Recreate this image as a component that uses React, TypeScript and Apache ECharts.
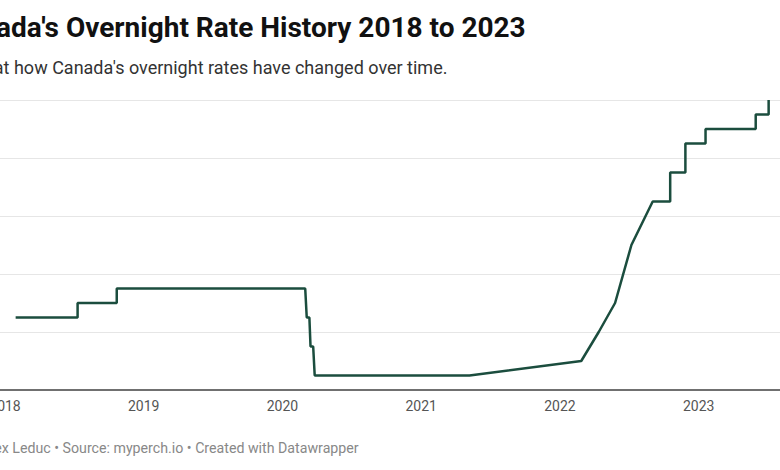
import React, { useEffect, useRef } from "react";
import * as echarts from "echarts";

const title = "Canada's Overnight Rate History 2018 to 2023";
const subtitle = "Look at how Canada's overnight rates have changed over time.";
const footer = "Chart: Alex Leduc • Source: myperch.io • Created with Datawrapper";

const dates = [
  "2018-01-29", "2018-07-11", "2018-07-11", "2018-10-22", "2018-10-22",
  "2020-03-01", "2020-03-05", "2020-03-12", "2020-03-15", "2020-03-22", "2020-03-26",
  "2021-05-08", "2022-02-26", "2022-04-13", "2022-05-26", "2022-07-08", "2022-09-02",
  "2022-10-18", "2022-10-18", "2022-11-27", "2022-11-27", "2023-01-19", "2023-01-19",
  "2023-05-31", "2023-05-31", "2023-07-04", "2023-07-04",
];
const rates = [
  1.25, 1.25, 1.5, 1.5, 1.75,
  1.75, 1.25, 1.25, 0.75, 0.75, 0.25,
  0.25, 0.5, 1.0, 1.5, 2.5, 3.25,
  3.25, 3.75, 3.75, 4.25, 4.25, 4.5,
  4.5, 4.75, 4.75, 5.0,
];
const yearTicks = [2018, 2019, 2020, 2021, 2022, 2023];
const xRange = [2017.964, 2023.586];
const rateTicks = [0, 1, 2, 3, 4, 5];

function toYear(d: string): number {
  const [y, m, day] = d.split("-").map(Number);
  const start = Date.UTC(y, 0, 1);
  const end = Date.UTC(y + 1, 0, 1);
  const t = Date.UTC(y, m - 1, day);
  return y + (t - start) / (end - start);
}

export default function App() {
  const ref = useRef<HTMLDivElement>(null);
  useEffect(() => {
    if (!ref.current) return;
    const chart = echarts.init(ref.current, undefined, { renderer: "svg" });
    const data = dates.map((d, i) => [toYear(d), rates[i]]);
    const font = "Roboto";
    chart.setOption({
      animation: false,
      backgroundColor: "#ffffff",
      grid: { left: 0, right: 0, top: 100, bottom: 80, containLabel: false, outerBoundsMode: "none" },
      xAxis: {
        type: "value",
        min: xRange[0],
        max: xRange[1],
        axisLine: { show: true, lineStyle: { color: "#707070", width: 2 } },
        axisTick: { show: false, customValues: yearTicks },
        splitLine: { show: false },
        axisLabel: {
          customValues: yearTicks,
          color: "#555555",
          fontFamily: font,
          fontSize: 14,
          margin: 9,
          showMinLabel: true,
          showMaxLabel: true,
          hideOverlap: false,
          formatter: (v: number) => String(Math.round(v)),
        },
      },
      yAxis: {
        type: "value",
        min: rateTicks[0],
        max: rateTicks[rateTicks.length - 1],
        interval: 1,
        axisLine: { show: false },
        axisTick: { show: false },
        axisLabel: { show: false },
        splitLine: { show: true, lineStyle: { color: "#e6e6e6", width: 1 } },
      },
      series: [
        {
          type: "line",
          data,
          showSymbol: false,
          symbol: "none",
          lineStyle: { color: "#1b4d3e", width: 2.5 },
          clip: false,
        },
      ],
      graphic: [
        {
          type: "text",
          x: -53,
          y: 27.1,
          style: {
            text: title,
            fontFamily: font,
            fontWeight: "bold",
            fontSize: 28,
            fill: "#111111",
            verticalAlign: "middle",
          },
        },
        {
          type: "text",
          x: -50,
          y: 67.1,
          style: {
            text: subtitle,
            fontFamily: font,
            fontSize: 18,
            fill: "#333333",
            verticalAlign: "middle",
          },
        },
        {
          type: "text",
          x: -60,
          y: 448.2,
          style: {
            text: footer,
            fontFamily: font,
            fontSize: 14.2,
            fill: "#888888",
            verticalAlign: "middle",
          },
        },
      ],
    });
    return () => chart.dispose();
  }, []);
  return (
    <div
      ref={ref}
      style={{ position: "fixed", left: 0, top: 0, width: 780, height: 470, overflow: "hidden" }}
    />
  );
}
